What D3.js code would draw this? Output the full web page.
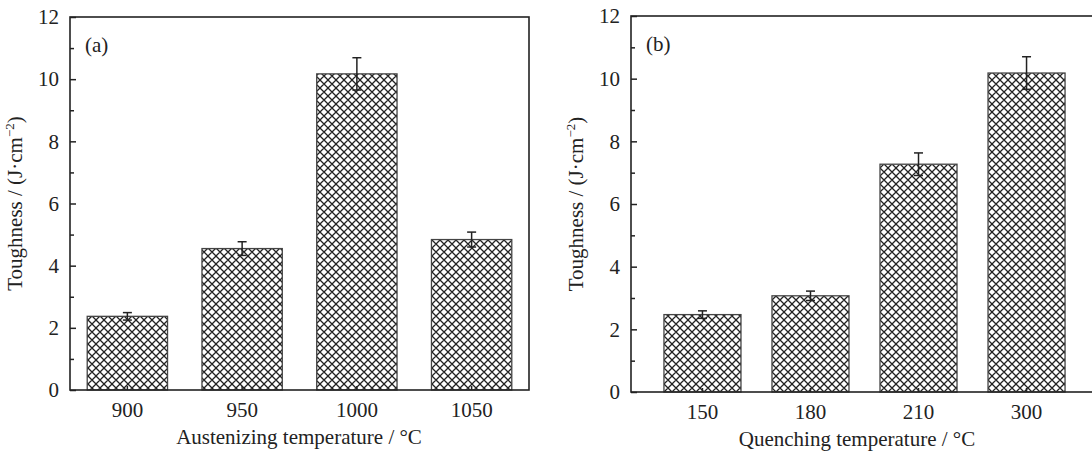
<!DOCTYPE html>
<html>
<head>
<meta charset="utf-8">
<script src="https://cdn.jsdelivr.net/npm/d3@7"></script>
<style>
  body { margin: 0; background: #fff; }
  text { font-family: "Liberation Serif", "Times New Roman", serif; fill: #222; }
</style>
</head>
<body>
<div class="chart"></div>
<script>
var svgWidth = 1092;
var svgHeight = 452;

// Panel (a): austenizing temperature
var ausCategories = ["900", "950", "1000", "1050"];
var ausToughness = [2.37, 4.55, 10.17, 4.84];
var ausError = [0.12, 0.22, 0.52, 0.24];

// Panel (b): quenching temperature
var queCategories = ["150", "180", "210", "300"];
var queToughness = [2.47, 3.07, 7.27, 10.18];
var queError = [0.12, 0.15, 0.36, 0.52];

var yTicks = [0, 2, 4, 6, 8, 10, 12];
var yMinorTicks = [1, 3, 5, 7, 9, 11];

var svg = d3.select(".chart")
  .append("svg")
  .attr("width", svgWidth)
  .attr("height", svgHeight);

// cross hatch pattern
var defs = svg.append("defs");
var pat = defs.append("pattern")
  .attr("id", "hatch")
  .attr("patternUnits", "userSpaceOnUse")
  .attr("width", 8)
  .attr("height", 8);
pat.append("rect").attr("width", 8).attr("height", 8).attr("fill", "#fff");
pat.append("path")
  .attr("d", "M0,0 L8,8 M-4,4 L4,12 M4,-4 L12,4 M0,8 L8,0 M-4,4 L4,-4 M4,12 L12,4")
  .attr("stroke", "#222")
  .attr("stroke-width", 1.3);

function drawPanel(opts) {
  var x = d3.scaleBand()
    .domain(opts.categories)
    .range([opts.left, opts.right])
    .paddingInner(opts.padInner)
    .paddingOuter(opts.padOuter);

  var y = d3.scaleLinear()
    .domain([0, 12])
    .range([opts.bottom, opts.top]);

  var g = svg.append("g");
  var data = opts.categories.map(function(c, i) {
    return { cat: c, val: opts.values[i], err: opts.errors[i] };
  });

  // bars
  g.selectAll("rect.bar")
    .data(data)
    .enter()
    .append("rect")
    .attr("class", "bar")
    .attr("x", d => x(d.cat))
    .attr("y", d => y(d.val))
    .attr("width", x.bandwidth())
    .attr("height", d => y(0) - y(d.val))
    .attr("fill", "url(#hatch)")
    .attr("stroke", "#444")
    .attr("stroke-width", 1.3);

  // error bars
  var cap = 4.5;
  var eb = g.selectAll("g.err")
    .data(data)
    .enter()
    .append("g")
    .attr("stroke", "#222")
    .attr("stroke-width", 1.5);
  eb.append("line")
    .attr("x1", d => x(d.cat) + x.bandwidth() / 2)
    .attr("x2", d => x(d.cat) + x.bandwidth() / 2)
    .attr("y1", d => y(d.val + d.err))
    .attr("y2", d => y(d.val - d.err));
  eb.append("line")
    .attr("x1", d => x(d.cat) + x.bandwidth() / 2 - cap)
    .attr("x2", d => x(d.cat) + x.bandwidth() / 2 + cap)
    .attr("y1", d => y(d.val + d.err))
    .attr("y2", d => y(d.val + d.err));
  eb.append("line")
    .attr("x1", d => x(d.cat) + x.bandwidth() / 2 - cap)
    .attr("x2", d => x(d.cat) + x.bandwidth() / 2 + cap)
    .attr("y1", d => y(d.val - d.err))
    .attr("y2", d => y(d.val - d.err));

  // axes (inward ticks)
  var leftAxis = d3.axisLeft(y).tickValues(yTicks).tickSizeInner(-6).tickSizeOuter(0).tickPadding(11);
  var yAxisG = g.append("g")
    .attr("transform", `translate(${opts.left}, 0)`)
    .call(leftAxis);
  yAxisG.selectAll("line").attr("stroke", "#222").attr("stroke-width", 1.5);
  yAxisG.selectAll("text").style("font-size", "21px").style("font-family", "Liberation Serif, serif").attr("fill", "#222");
  yAxisG.select(".domain").remove();

  g.append("g")
    .attr("transform", `translate(${opts.left}, 0)`)
    .call(d3.axisLeft(y).tickValues(yMinorTicks).tickSize(-4).tickFormat(""))
    .call(a => a.select(".domain").remove())
    .selectAll("line").attr("stroke", "#222").attr("stroke-width", 1.5);

  var bottomAxis = d3.axisBottom(x).tickSizeInner(-4).tickSizeOuter(0).tickPadding(12);
  var xAxisG = g.append("g")
    .attr("transform", `translate(0, ${opts.bottom})`)
    .call(bottomAxis);
  xAxisG.selectAll("line").attr("stroke", "#222").attr("stroke-width", 1.5);
  xAxisG.selectAll("text").style("font-size", "21px").style("font-family", "Liberation Serif, serif").attr("fill", "#222");
  xAxisG.select(".domain").remove();

  // frame
  g.append("rect")
    .attr("x", opts.left)
    .attr("y", opts.top)
    .attr("width", opts.right - opts.left)
    .attr("height", opts.bottom - opts.top)
    .attr("fill", "none")
    .attr("stroke", "#222")
    .attr("stroke-width", 1.6);

  // panel label
  g.append("text")
    .attr("x", opts.left + 15)
    .attr("y", opts.top + 35)
    .style("font-size", "21px")
    .text(opts.label);

  // axis titles
  g.append("text")
    .attr("x", opts.titleX)
    .attr("y", opts.bottom + 54)
    .attr("text-anchor", "middle")
    .style("font-size", "21px")
    .text(opts.xTitle);

  var yt = g.append("text")
    .attr("transform", `translate(${opts.left - 48}, ${(opts.top + opts.bottom) / 2}) rotate(-90)`)
    .attr("text-anchor", "middle")
    .style("font-size", "21px");
  yt.append("tspan").text("Toughness / (J·cm");
  yt.append("tspan").attr("dy", -8).style("font-size", "13px").text("−2");
  yt.append("tspan").attr("dy", 8).text(")");
}

drawPanel({
  categories: ausCategories, values: ausToughness, errors: ausError,
  left: 70, right: 529, top: 17, bottom: 390,
  padInner: 0.3, padOuter: 0.15,
  label: "(a)", xTitle: "Austenizing temperature / °C", titleX: 299
});

drawPanel({
  categories: queCategories, values: queToughness, errors: queError,
  left: 631, right: 1098, top: 16, bottom: 392,
  padInner: 0.287, padOuter: 0.305,
  label: "(b)", xTitle: "Quenching temperature / °C", titleX: 857
});
</script>
</body>
</html>
